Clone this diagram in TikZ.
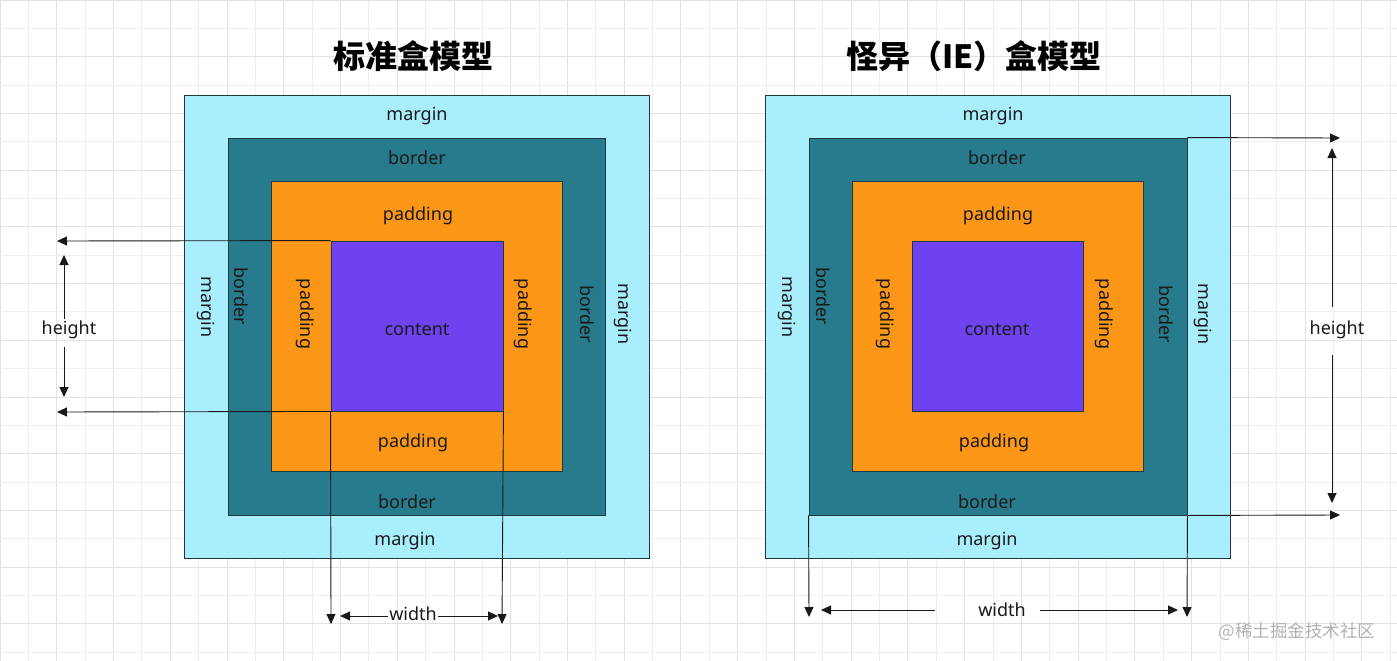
\documentclass[tikz,border=0pt]{standalone}
\usepackage{fontspec}
\setmainfont{Noto Sans}
\newfontfamily\cjk{Noto Sans CJK SC}
\usetikzlibrary{arrows.meta}
\definecolor{cmargin}{HTML}{A8EEFC}
\definecolor{cborder}{HTML}{287B8D}
\definecolor{cpadding}{HTML}{FC9617}
\definecolor{ccontent}{HTML}{6F42F0}
\definecolor{cstroke}{HTML}{1E3A40}
\definecolor{ctext}{HTML}{1A1A1A}
\definecolor{gridA}{HTML}{E2E2E2}
\definecolor{gridB}{HTML}{EEEEEE}
\begin{document}
\begin{tikzpicture}[x=1pt,y=-1pt,
  box/.style={draw=cstroke,line width=0.9pt,inner sep=0pt,rectangle},
  lbl/.style={font=\fontsize{18}{21}\selectfont,text=ctext,inner sep=1pt},
  vlbl/.style={lbl,rotate=-90},
  ttl/.style={font=\cjk\bfseries\fontsize{32}{36}\selectfont,text=black},
  arr/.style={line width=0.9pt,draw=black!90,-{Triangle[length=10pt,width=9pt]}},
  ln/.style={line width=0.9pt,draw=black!90}]
\useasboundingbox (0,0) rectangle (1397,661);
\fill[white] (0,0) rectangle (1397,661);
% grid
\begin{scope}
\clip (0,0) rectangle (1397,661);
\foreach \i in {0,...,49}{
  \pgfmathsetmacro{\gx}{\i*28.37}
  \ifodd\i \draw[gridB,line width=0.8pt] (\gx,0) -- (\gx,661); \else \draw[gridA,line width=0.8pt] (\gx,0) -- (\gx,661); \fi}
\foreach \j in {0,...,23}{
  \pgfmathsetmacro{\gy}{\j*28.35}
  \ifodd\j \draw[gridB,line width=0.8pt] (0,\gy) -- (1397,\gy); \else \draw[gridA,line width=0.8pt] (0,\gy) -- (1397,\gy); \fi}
\end{scope}
% titles
\node[ttl] (t1) at (413,56) {标准盒模型};
\node[ttl] (t2) at (974,56) {怪异（IE）盒模型};
% ===== left: standard =====
\node[box,fill=cmargin,minimum width=465pt,minimum height=463pt] (lm) at (416.5,326.5) {};
\node[box,fill=cborder,minimum width=377pt,minimum height=377pt] (lb) at (416.5,326.5) {};
\node[box,fill=cpadding,minimum width=291pt,minimum height=290pt] (lp) at (416.5,326) {};
\node[box,fill=ccontent,minimum width=172pt,minimum height=170pt] (lc) at (417,326) {};
\node[lbl] (lmt) at (417,116.5) {margin};
\node[lbl] (lbt) at (417,157.5) {border};
\node[lbl] (lpt) at (418,215.5) {padding};
\node[lbl] (lct) at (417,329.5) {content};
\node[lbl] (lpb) at (413,442.5) {padding};
\node[lbl] (lbb) at (407,501.5) {border};
\node[lbl] (lmb) at (405,541.5) {margin};
\node[vlbl] (lml) at (206,307) {margin};
\node[vlbl] (lbl) at (241,296) {border};
\node[vlbl] (lpl) at (305,314) {padding};
\node[vlbl] (lpr) at (523,314) {padding};
\node[vlbl] (lbr) at (587,314) {border};
\node[vlbl] (lmr) at (623,314) {margin};
% left dimension lines
\coordinate (lh1) at (57,241);
\coordinate (lh2) at (57,412);
\draw[arr] (lc.north west) -- (lh1);
\draw[arr] (lc.south west) -- (lh2);
\node[lbl] (lht) at (69,329.5) {height};
\coordinate (lht1) at (64,255);
\coordinate (lht2) at (64,397);
\draw[arr] (64,319) -- (lht1);
\draw[arr] (64,347) -- (lht2);
\coordinate (lw1) at (331,624);
\coordinate (lw2) at (502,624);
\draw[arr] (lc.south west) -- (lw1);
\draw[arr] (lc.south east) -- (lw2);
\node[lbl] (lwt) at (413,613.5) {width};
\coordinate (lwa) at (340,616);
\coordinate (lwb) at (498,616);
\draw[arr] (lwt.west |- lwa) -- (lwa);
\draw[arr] (lwt.east |- lwb) -- (lwb);
% ===== right: IE =====
\node[box,fill=cmargin,minimum width=465pt,minimum height=463pt] (rm) at (997.5,326.5) {};
\node[box,fill=cborder,minimum width=378pt,minimum height=377pt] (rb) at (998,326.5) {};
\node[box,fill=cpadding,minimum width=291pt,minimum height=290pt] (rp) at (997.5,326) {};
\node[box,fill=ccontent,minimum width=171pt,minimum height=170pt] (rc) at (997.5,326) {};
\node[lbl] (rmt) at (993,116.5) {margin};
\node[lbl] (rbt) at (997,157.5) {border};
\node[lbl] (rpt) at (998,215.5) {padding};
\node[lbl] (rct) at (997,329.5) {content};
\node[lbl] (rpb) at (994,442.5) {padding};
\node[lbl] (rbb) at (987,501.5) {border};
\node[lbl] (rmb) at (987,541.5) {margin};
\node[vlbl] (rml) at (787,307) {margin};
\node[vlbl] (rbl) at (823,296) {border};
\node[vlbl] (rpl) at (885,314) {padding};
\node[vlbl] (rpr) at (1104,314) {padding};
\node[vlbl] (rbr) at (1166,314) {border};
\node[vlbl] (rmr) at (1203,314) {margin};
% right dimension lines
\coordinate (rh1) at (1340,138);
\coordinate (rh2) at (1340,515);
\draw[arr] (rb.north east) -- (rh1);
\draw[arr] (rb.south east) -- (rh2);
\node[lbl] (rht) at (1337,329.5) {height};
\coordinate (rht1) at (1332,148);
\coordinate (rht2) at (1332,503);
\draw[arr] (1332,307) -- (rht1);
\draw[arr] (1332,355) -- (rht2);
\coordinate (rw1) at (809,617);
\coordinate (rw2) at (1187,617);
\draw[arr] (rb.south west) -- (rw1);
\draw[arr] (rb.south east) -- (rw2);
\node[lbl] (rwt) at (1002,609.5) {width};
\coordinate (rwa) at (821,610);
\coordinate (rwb) at (1178,610);
\draw[arr] (935,610) -- (rwa);
\draw[arr] (1040,610) -- (rwb);
% watermark
\node[font=\cjk\fontsize{17.5}{20}\selectfont,text=black!30] (wm) at (1297,632) {@稀土掘金技术社区};
\end{tikzpicture}
\end{document}
